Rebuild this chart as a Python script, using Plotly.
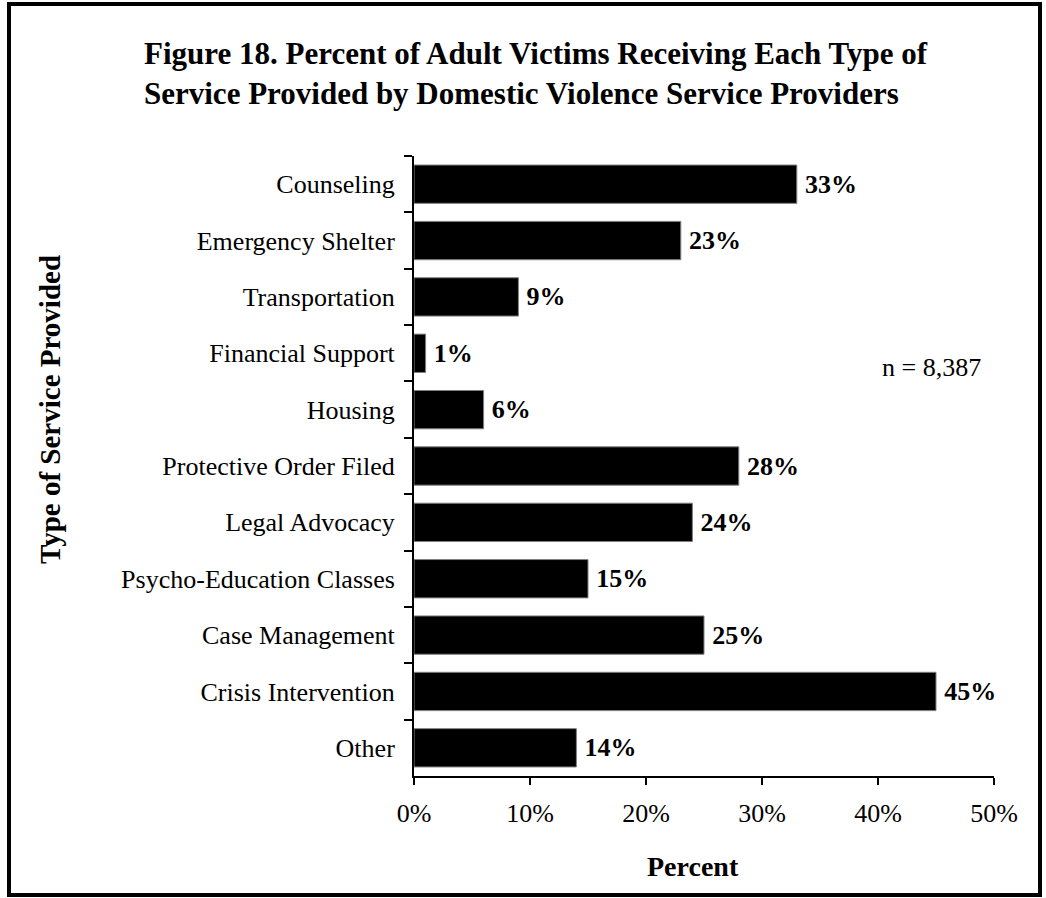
import plotly.graph_objects as go

services = ["Counseling", "Emergency Shelter", "Transportation", "Financial Support",
            "Housing", "Protective Order Filed", "Legal Advocacy",
            "Psycho-Education Classes", "Case Management", "Crisis Intervention", "Other"]
pct = [33, 23, 9, 1, 6, 28, 24, 15, 25, 45, 14]
xticks = [0, 10, 20, 30, 40, 50]
xticklabels = ["0%", "10%", "20%", "30%", "40%", "50%"]

W, H = 1046, 898
L, R, T, B = 414, 52, 156, 122
pw, ph = W - L - R, H - T - B

# pixel -> paper coordinates
def px(x):
    return (x - L) / pw

def py(y):
    return (H - B - y) / ph

serif = "Liberation Serif, Times New Roman, serif"

fig = go.Figure()
fig.add_trace(go.Bar(
    x=pct, y=services, orientation="h",
    marker=dict(color="black", line=dict(color="#808080", width=1)),
    text=[f"\u2009<b>{v}%</b>" for v in pct], textposition="outside",
    textfont=dict(family=serif, size=26, color="black"),
    cliponaxis=False, width=0.68,
))

fig.update_layout(
    width=W, height=H,
    margin=dict(l=L, r=R, t=T, b=B),
    paper_bgcolor="white", plot_bgcolor="white",
    font=dict(family=serif, size=26, color="black"),
    showlegend=False,
    annotations=[
        dict(x=px(142), y=py(73), xref="paper", yref="paper", showarrow=False,
             xanchor="left", yanchor="middle", align="left",
             text="<b>Figure 18. Percent of Adult Victims Receiving Each Type of<br>Service Provided by Domestic Violence Service Providers</b>",
             font=dict(family=serif, size=31)),
        dict(x=px(50), y=py(410), xref="paper", yref="paper", showarrow=False,
             xanchor="center", yanchor="middle",
             text="<b>Type of Service Provided</b>", textangle=-90,
             font=dict(family=serif, size=29)),
        dict(x=px(693), y=py(866), xref="paper", yref="paper", showarrow=False,
             xanchor="center", yanchor="middle",
             text="<b>Percent</b>", font=dict(family=serif, size=28)),
        dict(x=px(931), y=py(367), xref="paper", yref="paper", showarrow=False,
             xanchor="center", yanchor="middle",
             text="n = 8,387", font=dict(family=serif, size=26)),
    ],
    shapes=[
        dict(type="rect", xref="paper", yref="paper",
             x0=px(9), x1=px(1040), y0=py(895), y1=py(4),
             line=dict(color="black", width=4), layer="above"),
    ],
)

fig.update_xaxes(range=[0, 50], tickvals=xticks, ticktext=xticklabels,
                 showline=True, linecolor="black", linewidth=2,
                 ticks="outside", ticklen=7, tickwidth=2, tickcolor="black",
                 showgrid=False, zeroline=False, ticklabelstandoff=6)
fig.update_yaxes(autorange="reversed", showline=True, linecolor="black", linewidth=2,
                 ticks="outside", ticklen=8, tickwidth=2, tickcolor="black",
                 tickson="boundaries", showgrid=False, ticklabelstandoff=12)

fig.write_html("out.html", config={"displayModeBar": False},
               post_script="document.body.style.margin='0px';")
